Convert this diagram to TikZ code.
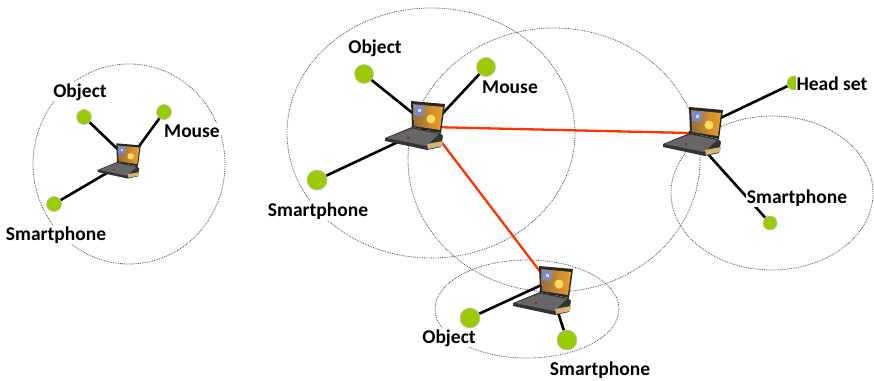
\documentclass[tikz,border=0pt]{standalone}
\usepackage{fontspec}
\setmainfont{Carlito}
\definecolor{devgreen}{RGB}{153,204,0}
\definecolor{radiored}{RGB}{255,51,0}
\definecolor{traytan}{RGB}{214,181,120}
\definecolor{screendark}{RGB}{150,110,60}
\definecolor{screenlight}{RGB}{240,160,40}
\definecolor{screensun}{RGB}{255,220,90}
\definecolor{screenblue}{RGB}{120,140,200}
\begin{document}
\begin{tikzpicture}[
        x=1pt, y=-1pt,
        zone/.style={draw=black!70, densely dotted, line width=0.8pt},
        dev/.style={circle, draw=black!25, line width=0.6pt, fill=devgreen, inner sep=0pt},
        lbl/.style={fill=white, inner sep=1pt, anchor=base, font=\fontsize{19.5}{20}\selectfont\bfseries},
        link/.style={draw, line width=2.6pt},
        radio/.style={draw, line width=2.3pt, color=radiored},
        laptop/.pic={
            % base and keyboard
            \fill[black!80] (-27,11) -- (0,0) -- (28,6) -- (31,9) -- (29,20) -- (15,23) -- (-27,14) -- cycle;
            \fill[black!60] (-25,11) -- (0,1.5) -- (27,7) -- (14,19) -- cycle;
            \fill[red!80!black] (-4,11) circle (1.2);
            \fill[traytan] (15,17) -- (31,14) -- (30,19) -- (16,22) -- cycle;
            % screen
            \fill[black!85] (0,0) -- (-1,-26) -- (33,-23) -- (29,6) -- cycle;
            \shade[left color=screendark, right color=screenlight]
                (2,-1) -- (1,-23) -- (31,-20) -- (28,3) -- cycle;
            \fill[screensun] (19,-8) circle (4.5);
            \fill[screenblue] (2,-22) -- (12,-21) -- (11,-11) -- (2,-12) -- cycle;
            \fill[white!85!blue] (6,-18) rectangle (9,-15);
        }
    ]
    \useasboundingbox (0,0) rectangle (874,380);

    % radio ranges
    \draw [zone] (129,164) ellipse (96 and 100);
    \draw [zone] (431,133) ellipse (144 and 125);
    \draw [zone] (554,160) ellipse (146 and 132);
    \draw [zone] (772,193) ellipse (101 and 77);
    \draw [zone] (527,309) ellipse (92 and 49);

    \coordinate (lapL) at (129,160);
    \coordinate (lapM) at (430,127);
    \coordinate (lapR) at (689,133);
    \coordinate (lapB) at (548,282);

    \node [dev, minimum size=15pt] (objL) at (84,117) {};
    \node [dev, minimum size=15pt] (mouseL) at (164,112) {};
    \node [dev, minimum size=15pt] (phoneL) at (54,204) {};
    \node [dev, minimum size=19pt] (objM) at (364,74) {};
    \node [dev, minimum size=19pt] (mouseM) at (486,67) {};
    \node [dev, minimum size=20pt] (phoneM) at (317,180) {};
    \node [dev, minimum size=14pt] (headR) at (794,83) {};
    \node [dev, minimum size=14pt] (phoneR) at (770,223) {};
    \node [dev, minimum size=20pt] (objB) at (470,318) {};
    \node [dev, minimum size=20pt] (phoneB) at (567,340) {};

    \path [link] (objL) -- (lapL);
    \path [link] (mouseL) -- (lapL);
    \path [link] (phoneL) -- (lapL);
    \path [link] (objM) -- (lapM);
    \path [link] (mouseM) -- (lapM);
    \path [link] (phoneM) -- (lapM);
    \path [link] (headR) -- (lapR);
    \path [link] (phoneR) -- (lapR);
    \path [link] (objB) -- (lapB);
    \path [link] (phoneB) -- (lapB);
    \path [radio] (lapM) -- (lapR);
    \path [radio] (lapM) -- (lapB);

    \pic [scale=0.72] at (117,162) {laptop};
    \pic at (412,127) {laptop};
    \pic at (690,133) {laptop};
    \pic at (540,292) {laptop};

    \node [lbl] (tObjL) at (80,97) {Object};
    \node [lbl] (tMouseL) at (192,137) {Mouse};
    \node [lbl] (tPhoneL) at (56,240) {Smartphone};
    \node [lbl] (tObjM) at (375,53) {Object};
    \node [lbl] (tMouseM) at (510,93) {Mouse};
    \node [lbl] (tPhoneM) at (318,216) {Smartphone};
    \node [lbl] (tHeadR) at (832,90) {Head set};
    \node [lbl] (tPhoneR) at (797,203) {Smartphone};
    \node [lbl] (tObjB) at (449,343) {Object};
    \node [lbl] (tPhoneB) at (600,375) {Smartphone};
\end{tikzpicture}
\end{document}
